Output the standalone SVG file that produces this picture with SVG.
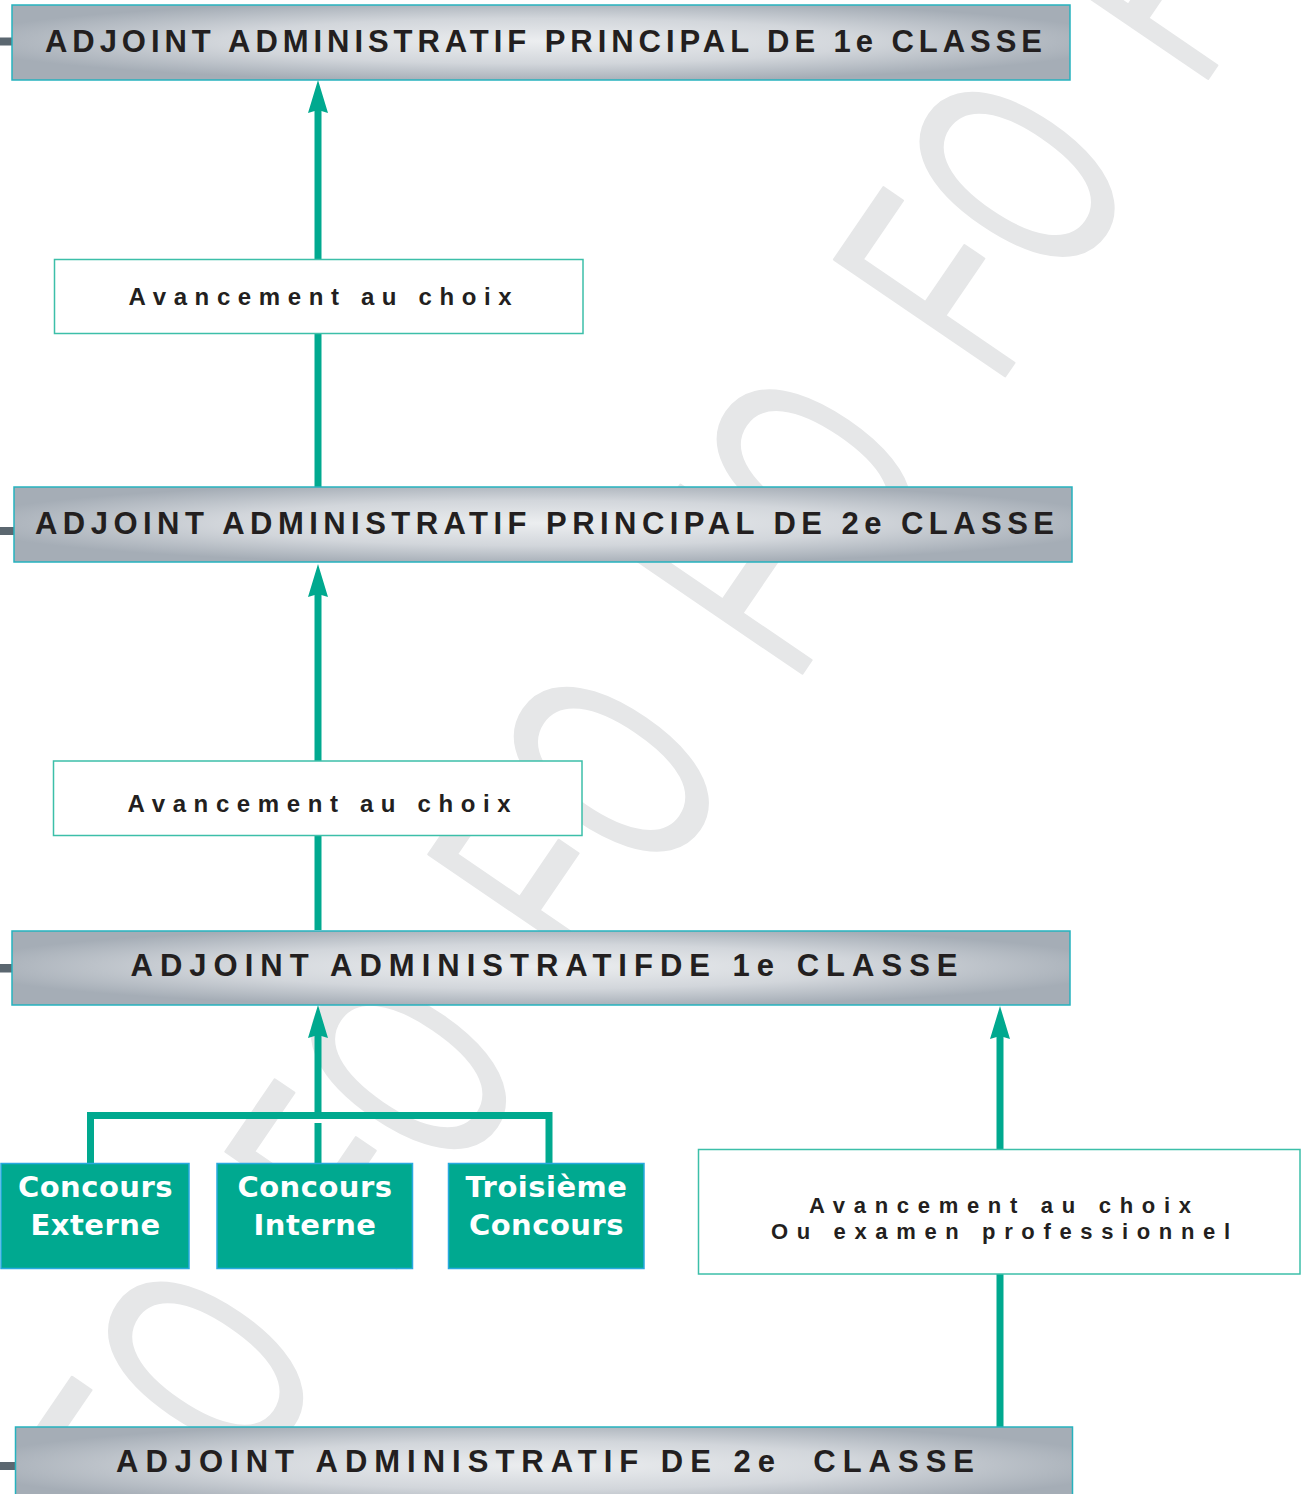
<svg xmlns="http://www.w3.org/2000/svg" width="1303" height="1494" viewBox="0 0 1303 1494">
<defs>
<style>
.gbox{fill:url(#silver);stroke:#26b2be;stroke-width:1.5}
.stub{fill:#5b6770}
.gtxt{font-family:"Liberation Sans",Arial,sans-serif;font-weight:700;font-size:31px;fill:#231f20}
.wbox{fill:#fff;stroke:#3cbfa9;stroke-width:1.5}
.wtxt{font-family:"Liberation Sans",Arial,sans-serif;font-weight:700;font-size:24px;fill:#231f20}
.wtxt2{font-family:"Liberation Sans",Arial,sans-serif;font-weight:700;font-size:22px;fill:#231f20}
.cbox{fill:#00a990;stroke:#29a9e0;stroke-width:1.5}
.ctxt{font-family:"DejaVu Sans",Verdana,sans-serif;font-weight:700;font-size:29px;fill:#fff;text-anchor:middle;letter-spacing:0.5px}
.conn{stroke:#00a98f;stroke-width:7;fill:none}
.arrow{marker-end:url(#ah)}
.wm{font-family:"Liberation Sans",Arial,sans-serif;font-size:300px;fill:#e6e7e8;stroke:#e6e7e8;stroke-width:3;stroke-linejoin:round}
</style>
<radialGradient id="silver" cx="0.5" cy="0.48" r="0.55">
<stop offset="0" stop-color="#eceef0"/>
<stop offset="0.55" stop-color="#d2d6db"/>
<stop offset="1" stop-color="#a5adb6"/>
</radialGradient>
<marker id="ah" markerUnits="userSpaceOnUse" markerWidth="40" markerHeight="30" refX="15" refY="15" orient="auto" viewBox="0 0 40 30">
<path d="M35,15 L2,5 L5,15 L2,25 Z" fill="#00a98f"/>
</marker>
</defs>
<rect width="1303" height="1494" fill="#fff"/>

<g id="watermark" transform="translate(860.9,587.1) rotate(-55.7) scale(0.6,1)">
<text class="wm" x="-1999.2 -1801.7 -1399.2 -1201.7 -799.2 -601.7 -199.2 -1.7 400.8 598.3 1000.8" y="0">FOFOFOFOFOF</text>
</g>

<g id="connectors">
<line class="conn arrow" x1="318" y1="487" x2="318" y2="100"/>
<line class="conn arrow" x1="318" y1="930" x2="318" y2="584"/>
<line class="conn arrow" x1="318" y1="1115.5" x2="318" y2="1025"/>
<path class="conn" d="M90.5,1163 V1115.5 H549 V1163"/>
<line class="conn" x1="318" y1="1123" x2="318" y2="1163"/>
<line class="conn arrow" x1="1000" y1="1427" x2="1000" y2="1026"/>
</g>

<g id="node-principal-1e">
<rect class="stub" x="0" y="37.5" width="12" height="8"/>
<rect class="gbox" x="12" y="5" width="1058" height="75"/>
<text class="gtxt" x="45" y="52" textLength="997" lengthAdjust="spacing">ADJOINT ADMINISTRATIF PRINCIPAL DE 1e CLASSE</text>
</g>

<g id="node-avancement-1">
<rect class="wbox" x="54.5" y="259.5" width="528.5" height="74"/>
<text class="wtxt" x="128.6" y="305" textLength="383" lengthAdjust="spacing">Avancement au choix</text>
</g>

<g id="node-principal-2e">
<rect class="stub" x="0" y="527" width="14" height="8"/>
<rect class="gbox" x="14" y="487" width="1058" height="75"/>
<text class="gtxt" x="35" y="533.5" textLength="1019" lengthAdjust="spacing">ADJOINT ADMINISTRATIF PRINCIPAL DE 2e CLASSE</text>
</g>

<g id="node-avancement-2">
<rect class="wbox" x="53.5" y="761" width="528.5" height="74.5"/>
<text class="wtxt" x="127.6" y="812" textLength="383" lengthAdjust="spacing">Avancement au choix</text>
</g>

<g id="node-adjoint-1e">
<rect class="stub" x="0" y="964" width="12" height="8.5"/>
<rect class="gbox" x="12" y="931" width="1058" height="74"/>
<text class="gtxt" x="130.5" y="976" textLength="827" lengthAdjust="spacing">ADJOINT ADMINISTRATIFDE 1e CLASSE</text>
</g>

<g id="node-concours-externe">
<rect class="cbox" x="1" y="1163.5" width="188" height="105"/>
<text class="ctxt" x="95.5" y="1197">Concours</text>
<text class="ctxt" x="95.5" y="1235">Externe</text>
</g>

<g id="node-concours-interne">
<rect class="cbox" x="217" y="1163.5" width="195.5" height="105"/>
<text class="ctxt" x="315" y="1197">Concours</text>
<text class="ctxt" x="315" y="1235">Interne</text>
</g>

<g id="node-troisieme-concours">
<rect class="cbox" x="448.5" y="1163.5" width="195.5" height="105"/>
<text class="ctxt" x="546.5" y="1197">Troisième</text>
<text class="ctxt" x="546.5" y="1235">Concours</text>
</g>

<g id="node-avancement-examen">
<rect class="wbox" x="698.5" y="1149.5" width="601.5" height="124.5"/>
<text class="wtxt2" x="809" y="1212.5" textLength="382" lengthAdjust="spacing">Avancement au choix</text>
<text class="wtxt2" x="771" y="1238.5" textLength="459" lengthAdjust="spacing">Ou examen professionnel</text>
</g>

<g id="node-adjoint-2e">
<rect class="stub" x="0" y="1462" width="15" height="8"/>
<rect class="gbox" x="15.5" y="1427" width="1057" height="80"/>
<text class="gtxt" x="116" y="1471.5" textLength="858" lengthAdjust="spacing" xml:space="preserve">ADJOINT ADMINISTRATIF DE 2e  CLASSE</text>
</g>
</svg>
